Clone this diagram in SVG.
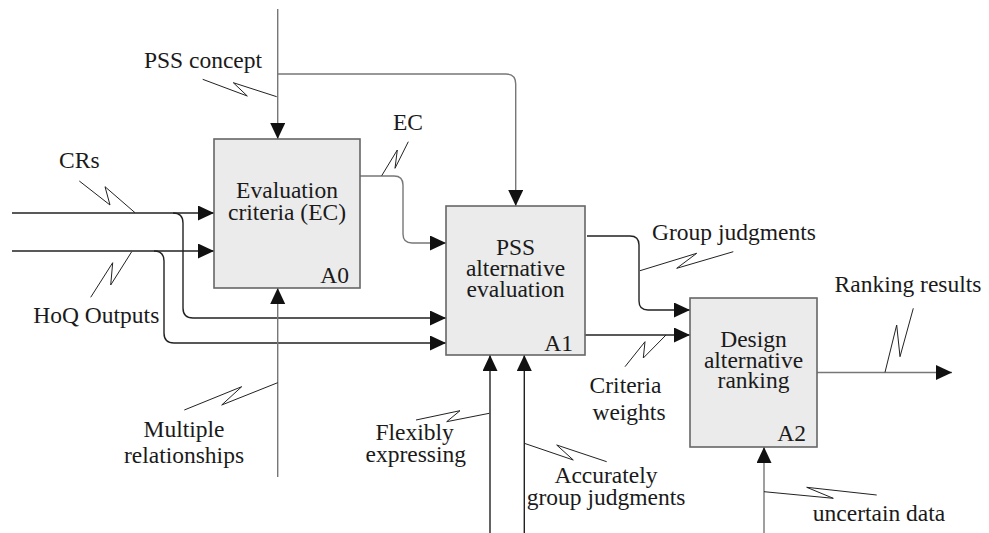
<svg xmlns="http://www.w3.org/2000/svg" width="989" height="533" viewBox="0 0 989 533">
<defs>
<marker id="ah" markerUnits="userSpaceOnUse" markerWidth="17" markerHeight="16" refX="16" refY="7.5" orient="auto">
<path d="M0,0 L16,7.5 L0,15 z" fill="#111"/>
</marker>
<style>
.box{fill:#ebebeb;stroke:#666;stroke-width:1.6}
text{font-family:'Liberation Serif','Times New Roman','DejaVu Serif',serif;font-size:23.5px;fill:#1a1a1a;text-anchor:middle}
.r{text-anchor:end}
.c{fill:none;stroke:#222;stroke-width:1.4}
.g{stroke:#777}
.sq{fill:none;stroke:#222;stroke-width:1;stroke-linejoin:round}
</style>
</defs>
<rect width="989" height="533" fill="#fff"/>
<g id="connectors">
<path class="c g" d="M277.7,9 V139" marker-end="url(#ah)"/>
<path class="c g" d="M277.7,74 H506 Q515.7,74 515.7,84 V206" marker-end="url(#ah)"/>
<path class="c" d="M12,213 H214" marker-end="url(#ah)"/>
<path class="c" d="M12,251 H214" marker-end="url(#ah)"/>
<path class="c" d="M173,213 Q183,213 183,223 V308 Q183,318 193,318 H446" marker-end="url(#ah)"/>
<path class="c" d="M154,251 Q164,251 164,261 V333 Q164,343 174,343 H446" marker-end="url(#ah)"/>
<path class="c g" d="M360,176 H394 Q403,176 403,185 V234 Q403,243 412,243 H446" marker-end="url(#ah)"/>
<path class="c g" d="M277.7,477 V288" marker-end="url(#ah)"/>
<path class="c" d="M587,236 H630 Q639,236 639,245 V301 Q639,310 648,310 H690" marker-end="url(#ah)"/>
<path class="c" d="M585,335 H690" marker-end="url(#ah)"/>
<path class="c g" d="M817,372.5 H952" marker-end="url(#ah)"/>
<path class="c" d="M490,533 V355" marker-end="url(#ah)"/>
<path class="c" d="M524.3,533 V355" marker-end="url(#ah)"/>
<path class="c g" d="M764,533 V447" marker-end="url(#ah)"/>
</g>
<g id="squiggles">
<polyline class="sq" points="202.7,79.3 247.3,96 233.3,82.7 276.7,96.7"/>
<polyline class="sq" points="79.3,181 110,205 105,186.7 135,212.7"/>
<polyline class="sq" points="90.7,297.3 112.7,262.7 110.7,285 131.7,251.7"/>
<polyline class="sq" points="381.7,175.7 397.3,150 395,168.3 408.3,141.7"/>
<polyline class="sq" points="184.3,410 241.7,386.7 221.7,405 277.7,382.7"/>
<polyline class="sq" points="640,270.7 696.7,253.3 676.7,268.3 733.3,251.7"/>
<polyline class="sq" points="625,366.7 645,341.7 643.3,358 666,335"/>
<polyline class="sq" points="885,372.3 896.7,325 900,356.7 913.3,308.3"/>
<polyline class="sq" points="416,420 460,410.7 446.7,421.7 489.3,413.3"/>
<polyline class="sq" points="524.3,443.3 573.3,460 556.7,445 606.7,461.7"/>
<polyline class="sq" points="764,491.7 833.3,498.3 806.7,487.3 876.7,495"/>
</g>
<g id="A0">
<rect class="box" x="214" y="139" width="146" height="149"/>
<text x="287" y="198">Evaluation</text>
<text x="287" y="220">criteria (EC)</text>
<text class="r" x="349" y="283">A0</text>
</g>
<g id="A1">
<rect class="box" x="446" y="206" width="139" height="149"/>
<text x="515.5" y="255">PSS</text>
<text x="515.5" y="276">alternative</text>
<text x="515.5" y="297">evaluation</text>
<text class="r" x="573" y="350.5">A1</text>
</g>
<g id="A2">
<rect class="box" x="690" y="298" width="127" height="149"/>
<text x="753.5" y="346.5">Design</text>
<text x="753.5" y="367.5">alternative</text>
<text x="753.5" y="388">ranking</text>
<text class="r" x="806" y="441">A2</text>
</g>
<g id="labels">
<text x="203" y="67.5">PSS concept</text>
<text x="79.3" y="168.3">CRs</text>
<text x="408" y="130">EC</text>
<text x="96.3" y="323.3">HoQ Outputs</text>
<text x="184" y="436.7">Multiple</text>
<text x="184" y="463.3">relationships</text>
<text x="734" y="240">Group judgments</text>
<text x="908" y="291.7">Ranking results</text>
<text x="625.5" y="393.3">Criteria</text>
<text x="629" y="420">weights</text>
<text x="414.7" y="440">Flexibly</text>
<text x="415.8" y="461.7">expressing</text>
<text x="606" y="483.3">Accurately</text>
<text x="606" y="505">group judgments</text>
<text x="879" y="520.7">uncertain data</text>
</g>
</svg>
